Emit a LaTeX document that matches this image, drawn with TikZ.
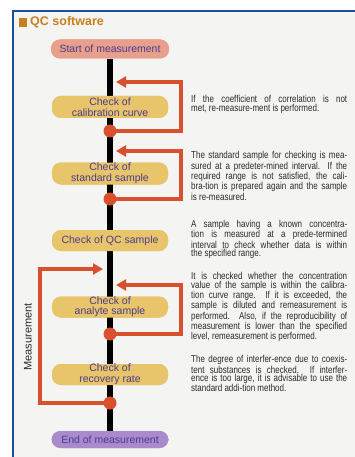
\documentclass[tikz,border=0pt]{standalone}
\usepackage{fontspec}
\setmainfont{Liberation Sans}
\newfontfamily\bodyfont[FakeStretch=0.8]{Liberation Sans}
\usetikzlibrary{arrows.meta,calc}
\definecolor{framebl}{HTML}{1E4F9C}
\definecolor{bgc}{HTML}{F4F4F2}
\definecolor{titleor}{HTML}{C8801E}
\definecolor{startc}{HTML}{E8A08C}
\definecolor{checkc}{HTML}{E8C46A}
\definecolor{endc}{HTML}{A98ACB}
\definecolor{nodetxt}{HTML}{4B3C8F}
\definecolor{loopred}{HTML}{D9502F}
\definecolor{bodytxt}{HTML}{2A2A2A}
\newcommand{\jl}[1]{\makebox[156pt][s]{#1}}
\tikzset{
  pill/.style={rounded corners=9pt, minimum width=116pt, minimum height=21pt, inner sep=0pt,
    align=center, text=nodetxt, font=\fontsize{10.5}{10.5}\selectfont},
  checkbox/.style={pill, fill=checkc},
  loopline/.style={draw=loopred, line width=4pt, -{Triangle[length=10pt,width=11pt]}},
  loopdot/.style={fill=loopred},
  desc/.style={anchor=north west, inner sep=0pt, align=left, text=bodytxt,
    font=\bodyfont\fontsize{10}{8.6}\selectfont}
}
\begin{document}
\begin{tikzpicture}[x=1pt,y=-1pt]
\useasboundingbox (0,0) rectangle (355,457);
\fill[white] (0,0) rectangle (355,457);
\fill[bgc] (13,11) rectangle (355,457);
\draw[framebl, line width=2.5pt] (13,457) -- (13,11) -- (355,11);
% title
\fill[titleor] (19,18) rectangle (27,27);
\node[anchor=west, inner sep=0pt, text=titleor, font=\bfseries\fontsize{12.5}{13}\selectfont] (title) at (30,22.5) {QC software};
% nodes
\node[pill, fill=startc, minimum width=118pt, minimum height=19pt] (start) at (110,49) {Start of measurement};
\node[checkbox, minimum height=22pt] (cal) at (110,107) {Check of\\calibration curve};
\node[checkbox, minimum height=22pt] (std) at (110,173.5) {Check of\\standard sample};
\node[checkbox] (qc) at (110,240.5) {Check of QC sample};
\node[checkbox, minimum height=21pt] (ana) at (110,307) {Check of\\analyte sample};
\node[checkbox, minimum height=21pt] (rec) at (110,374.5) {Check of\\recovery rate};
\node[pill, fill=endc, minimum width=117pt, minimum height=17pt] (end) at (110,439.5) {End of measurement};
% black line
\draw[line width=6pt] (start.south) -- (end.north);
% redraw nodes on top of the line
\node[pill, fill=startc, minimum width=118pt, minimum height=19pt] at (start) {Start of measurement};
\node[checkbox, minimum height=22pt] at (cal) {Check of\\calibration curve};
\node[checkbox, minimum height=22pt] at (std) {Check of\\standard sample};
\node[checkbox] at (qc) {Check of QC sample};
\node[checkbox, minimum height=21pt] at (ana) {Check of\\analyte sample};
\node[checkbox, minimum height=21pt] at (rec) {Check of\\recovery rate};
\node[pill, fill=endc, minimum width=117pt, minimum height=17pt] at (end) {End of measurement};
% loop coordinates
\coordinate (d1) at (110,131);
\coordinate (a1) at (116,82);
\coordinate (d2) at (110,199);
\coordinate (a2) at (116,151);
\coordinate (d4) at (110,334);
\coordinate (a4) at (116,285);
\coordinate (d3) at (110,403);
\coordinate (a3) at (103,269);
\draw[loopline] (d1) -- ++(71,0) |- (a1);
\draw[loopline] (d2) -- ++(71,0) |- (a2);
\draw[loopline] (d4) -- ++(71,0) |- (a4);
\draw[loopline] (d3) -- ++(-70,0) |- (a3);
\fill[loopdot] (d1) circle (6.5);
\fill[loopdot] (d2) circle (6.5);
\fill[loopdot] (d4) circle (6.5);
\fill[loopdot] (d3) circle (6.5);
% Measurement label
\node[rotate=90, inner sep=0pt, font=\fontsize{11}{11}\selectfont, text=bodytxt] (meas) at (28,337) {Measurement};
% descriptions
\node[desc] (t1) at (191,95.3) {\jl{If the coefficient of correlation is not}\\met, re-measure-ment is performed.};
\node[desc] (t2) at (191,151.3) {\jl{The standard sample for checking is mea-}\\\jl{sured at a predeter-mined interval.\ \ If the}\\\jl{required range is not satisfied, the cali-}\\\jl{bra-tion is prepared again and the sample}\\is re-measured.};
\node[desc] (t3) at (191,220) {\jl{A sample having a known concentra-}\\\jl{tion is measured at a prede-termined}\\\jl{interval to check whether data is within}\\the specified range.};
\node[desc] (t4) at (191,272.3) {\jl{It is checked whether the concentration}\\\jl{value of the sample is within the calibra-}\\\jl{tion curve range.\ \ If it is exceeded, the}\\\jl{sample is diluted and remeasurement is}\\\jl{performed.\ \ Also, if the reproducibility of}\\\jl{measurement is lower than the specified}\\level, remeasurement is performed.};
\node[desc] (t5) at (191,355.3) {\jl{The degree of interfer-ence due to coexis-}\\\jl{tent substances is checked.\ \ If interfer-}\\\jl{ence is too large, it is advisable to use the}\\standard addi-tion method.};
\end{tikzpicture}
\end{document}
